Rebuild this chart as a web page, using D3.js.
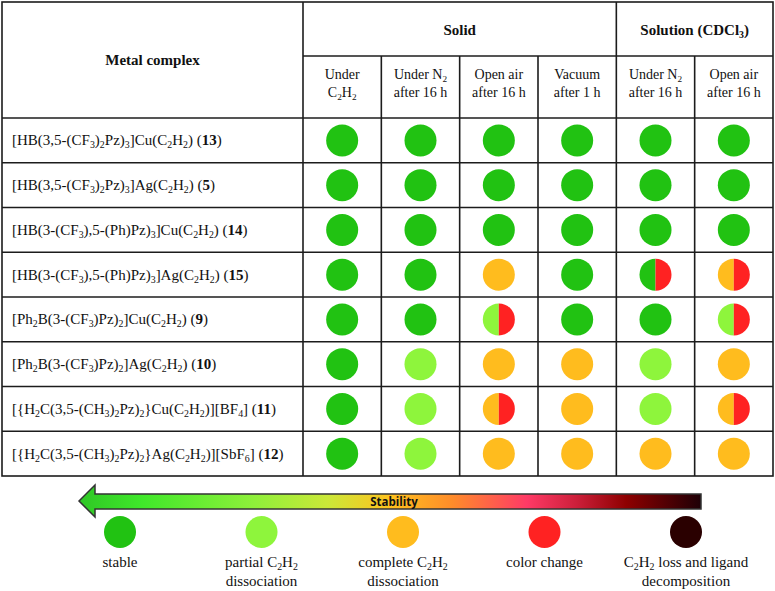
<!DOCTYPE html>
<html><head><meta charset="utf-8">
<script src="https://cdnjs.cloudflare.com/ajax/libs/d3/7.8.5/d3.min.js"></script>
<style>body{margin:0;background:#fff}svg{display:block}</style>
</head><body><svg id="c" width="775" height="591"></svg>
<script>
// ---------- data ----------
const complexes = [
  "[HB(3,5-(CF_{3})_{2}Pz)_{3}]Cu(C_{2}H_{2}) (**13**)",
  "[HB(3,5-(CF_{3})_{2}Pz)_{3}]Ag(C_{2}H_{2}) (**5**)",
  "[HB(3-(CF_{3}),5-(Ph)Pz)_{3}]Cu(C_{2}H_{2}) (**14**)",
  "[HB(3-(CF_{3}),5-(Ph)Pz)_{3}]Ag(C_{2}H_{2}) (**15**)",
  "[Ph_{2}B(3-(CF_{3})Pz)_{2}]Cu(C_{2}H_{2}) (**9**)",
  "[Ph_{2}B(3-(CF_{3})Pz)_{2}]Ag(C_{2}H_{2}) (**10**)",
  "[{H_{2}C(3,5-(CH_{3})_{2}Pz)_{2}}Cu(C_{2}H_{2})][BF_{4}] (**11**)",
  "[{H_{2}C(3,5-(CH_{3})_{2}Pz)_{2}}Ag(C_{2}H_{2})][SbF_{6}] (**12**)"
];
const conditions = ["c1","c2","c3","c4","c5","c6"];
const conditionLabels = [
  ["Under","C_{2}H_{2}"],
  ["Under N_{2}","after 16 h"],
  ["Open air","after 16 h"],
  ["Vacuum","after 1 h"],
  ["Under N_{2}","after 16 h"],
  ["Open air","after 16 h"]
];
const groups = ["**Solid**","**Solution (CDCl_{3})**"];
const groupSpans = [4, 2];
// status per cell; "a|b" = left half a, right half b
const statusRows = [
  ["stable","stable","stable","stable","stable","stable"],
  ["stable","stable","stable","stable","stable","stable"],
  ["stable","stable","stable","stable","stable","stable"],
  ["stable","stable","complete","stable","stable|color","complete|color"],
  ["stable","stable","partial|color","stable","stable","partial|color"],
  ["stable","partial","complete","complete","partial","complete"],
  ["stable","partial","complete|color","complete","partial","complete|color"],
  ["stable","partial","complete","complete","complete","complete"]
];
const legendKeys = ["stable","partial","complete","color","decomp"];
const legendLabels = [
  ["stable"],
  ["partial C_{2}H_{2}","dissociation"],
  ["complete C_{2}H_{2}","dissociation"],
  ["color change"],
  ["C_{2}H_{2} loss and ligand","decomposition"]
];
const legendColors = ["#21c212","#8ef53c","#ffbc1e","#ff2222","#2a0000"];
const gradientStops = [
  [0,"#2fc626"],[0.1,"#3fe82a"],[0.28,"#8ef03a"],[0.4,"#cbe838"],[0.5,"#ffc21e"],
  [0.6,"#ff8c2a"],[0.72,"#ff3a66"],[0.8,"#cc1f3a"],[0.88,"#8e0000"],[1,"#1e0006"]
];

// ---------- helpers ----------
const svg = d3.select("#c");
const color = d3.scaleOrdinal().domain(legendKeys).range(legendColors);
const SERIF = "'Liberation Serif','Times New Roman',serif";
const SUB = 3;

function rich(textSel, str, size){
  const parts = str.split(/(_\{[^}]*\}|\*\*[^*]*\*\*)/).filter(s=>s.length);
  let shift = 0;
  parts.forEach(p=>{
    if (p.startsWith("_{")) {
      textSel.append("tspan").text(p.slice(2,-1)).attr("font-size", size*0.66).attr("dy", SUB - shift);
      shift = SUB;
    } else if (p.startsWith("**")) {
      const s = p.slice(2,-2);
      s.split(/(_\{[^}]*\})/).filter(x=>x.length).forEach(q=>{
        const u = textSel.append("tspan").attr("font-weight","bold");
        if (q.startsWith("_{")) { u.text(q.slice(2,-1)).attr("font-size", size*0.66).attr("dy", SUB - shift); shift = SUB; }
        else { u.text(q).attr("dy", -shift); shift = 0; }
      });
    } else {
      textSel.append("tspan").text(p).attr("dy", -shift);
      shift = 0;
    }
  });
}

// ---------- layout scales ----------
const x = d3.scaleBand().domain(conditions).range([303, 773]);
const y = d3.scaleBand().domain(complexes).range([118, 476]);
const leftX = 2, topY = 2, headMid = 56;

const grid = svg.append("g").attr("stroke","#1c1c1c").attr("stroke-width",1.6);
grid.append("rect").attr("x",leftX).attr("y",topY).attr("width",773-leftX).attr("height",476-topY).attr("fill","none");
grid.selectAll("line.h").data(complexes).join("line")
  .attr("x1",leftX).attr("x2",773).attr("y1",d=>y(d)).attr("y2",d=>y(d));
grid.append("line").attr("x1",303).attr("x2",773).attr("y1",headMid).attr("y2",headMid);
grid.selectAll("line.v").data(conditions).join("line")
  .attr("x1",d=>x(d)).attr("x2",d=>x(d))
  .attr("y1",(d,i)=> (i===0||i===4)? topY : headMid).attr("y2",476);

// header text
const hdr = svg.append("g").attr("font-family",SERIF).attr("fill","#111").attr("text-anchor","middle");
rich(hdr.append("text").attr("x",(leftX+303)/2).attr("y",65).attr("font-size",15), "**Metal complex**", 15);
let ci = 0;
groups.forEach((g,i)=>{
  const x0 = x(conditions[ci]), x1 = x(conditions[ci+groupSpans[i]-1]) + x.bandwidth();
  rich(hdr.append("text").attr("x",(x0+x1)/2).attr("y",35).attr("font-size",15), g, 15);
  ci += groupSpans[i];
});
conditions.forEach((c,i)=>{
  const cx = x(c) + x.bandwidth()/2;
  rich(hdr.append("text").attr("x",cx).attr("y",79).attr("font-size",14), conditionLabels[i][0], 14);
  rich(hdr.append("text").attr("x",cx).attr("y",97).attr("font-size",14), conditionLabels[i][1], 14);
});

// row labels
const rl = svg.append("g").attr("font-family",SERIF).attr("fill","#111").attr("font-size",15);
complexes.forEach(c=>{
  rich(rl.append("text").attr("x",12).attr("y",y(c)+y.bandwidth()/2+5), c, 15);
});

// cells
const R = 16;
const arc = d3.arc().innerRadius(0).outerRadius(R);
const cells = svg.append("g");
statusRows.forEach((row,ri)=>{
  row.forEach((st,cj)=>{
    const g = cells.append("g").attr("transform",`translate(${x(conditions[cj])+x.bandwidth()/2},${y(complexes[ri])+y.bandwidth()/2})`);
    const parts = st.split("|");
    if (parts.length===1) g.append("circle").attr("r",R).attr("fill",color(parts[0]));
    else {
      g.append("path").attr("d",arc({startAngle:Math.PI,endAngle:2*Math.PI})).attr("fill",color(parts[0]));
      g.append("path").attr("d",arc({startAngle:0,endAngle:Math.PI})).attr("fill",color(parts[1]));
    }
  });
});

// legend arrow
const defs = svg.append("defs");
const lg = defs.append("linearGradient").attr("id","grad").attr("x1","0%").attr("x2","100%");
gradientStops.forEach(s=>lg.append("stop").attr("offset",s[0]).attr("stop-color",s[1]));
const ax = d3.scaleLinear().domain([0,1]).range([79,701]);
const ay = d3.scaleLinear().domain([0,1]).range([485,517]);
const arrowPts = [[ax(0),ay(0.5)],[95,ay(0)],[95,494],[ax(1),494],[ax(1),509],[95,509],[95,ay(1)]];
svg.append("path").attr("d", d3.line()(arrowPts)+"Z")
  .attr("fill","url(#grad)").attr("stroke","#333").attr("stroke-width",1.5).attr("stroke-linejoin","miter");
svg.append("text").attr("x",394).attr("y",506).attr("text-anchor","middle")
  .attr("font-family","'Open Sans','Lato',sans-serif").attr("font-weight","bold").attr("font-size",11.5)
  .attr("fill","#111").text("Stability");

// legend circles
const lx = d3.scalePoint().domain(legendKeys).range([120,686]);
const leg = svg.append("g");
legendKeys.forEach((k,i)=>{
  leg.append("circle").attr("cx",lx(k)).attr("cy",532).attr("r",R).attr("fill",color(k));
  legendLabels[i].forEach((line,li)=>{
    rich(leg.append("text").attr("x",lx(k)).attr("y",567+li*19).attr("text-anchor","middle")
      .attr("font-family",SERIF).attr("font-size",15).attr("fill","#111"), line, 15);
  });
});
</script></body></html>
